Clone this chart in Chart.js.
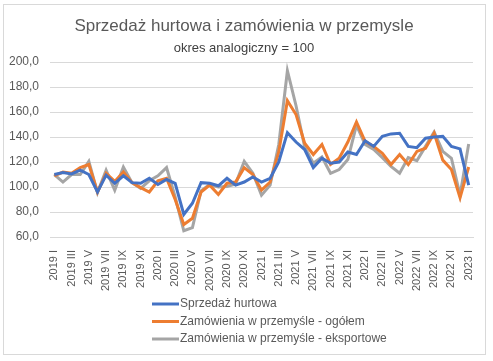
<!DOCTYPE html>
<html>
<head>
<meta charset="utf-8">
<script src="https://cdn.jsdelivr.net/npm/chart.js@4"></script>
<style>
  body { margin: 0; background: #fff; }
  #wrap { position: relative; width: 493px; height: 361px; }
  #frame { position: absolute; left: 3px; top: 4px; width: 481px; height: 349px; border: 1px solid #d9d9d9; }
  canvas { position: absolute; left: 0; top: 0; }
</style>
</head>
<body>
<div id="wrap">
  <div id="frame"></div>
  <canvas id="chart" width="493" height="361"></canvas>
</div>
<script>
const months = [
  "2019 I", "2019 II", "2019 III", "2019 IV", "2019 V", "2019 VI", "2019 VII", "2019 VIII", "2019 IX", "2019 X", "2019 XI", "2019 XII",
  "2020 I", "2020 II", "2020 III", "2020 IV", "2020 V", "2020 VI", "2020 VII", "2020 VIII", "2020 IX", "2020 X", "2020 XI", "2020 XII",
  "2021 I", "2021 II", "2021 III", "2021 IV", "2021 V", "2021 VI", "2021 VII", "2021 VIII", "2021 IX", "2021 X", "2021 XI", "2021 XII",
  "2022 I", "2022 II", "2022 III", "2022 IV", "2022 V", "2022 VI", "2022 VII", "2022 VIII", "2022 IX", "2022 X", "2022 XI", "2022 XII",
  "2023 I"
];

const sprzedaz = [
  110, 111.5, 110.5, 113.5, 110, 96, 109.5, 103, 109, 103.5, 103, 107,
  102, 106, 103, 78, 87, 103.5, 103, 101, 107, 101.5, 104, 108,
  104, 107, 120, 143.5, 136, 130, 115.5, 123, 119, 120, 128, 126,
  137, 132.5, 140.5, 142.5, 143, 132.5, 131.5, 139, 140, 140.5, 132.5, 130.5,
  101.5
];

const zamOgolem = [
  109, 112, 111, 115.5, 118, 96, 111, 104.5, 112, 103.5, 99.5, 96,
  105, 107, 90, 70, 75, 96, 101.5, 94, 103, 104, 115.5, 110,
  97.5, 104, 128, 169, 158, 135, 126, 134, 118, 123, 136, 152,
  136.5, 132.5, 127, 118, 126, 118, 128.5, 131, 143, 121.5, 114, 91.5,
  116
];

const zamEksport = [
  110, 104, 110, 110, 120.5, 95.5, 113.5, 97.5, 116, 103.5, 99, 105,
  109, 115.5, 92, 65, 67.5, 97, 102, 100, 100.5, 102.5, 120.5, 111,
  93.5, 101.5, 134, 193, 165, 132, 119, 124, 111, 114, 122, 149.5,
  134, 130, 123.5, 116.5, 111, 123.5, 121, 132.5, 144, 128.5, 123, 93.5,
  134.5
];

const seriesNames = [
  "Sprzedaż hurtowa",
  "Zamówienia w przemyśle - ogółem",
  "Zamówienia w przemyśle - eksportowe"
];
const seriesColors = ["#4472c4", "#ed7d31", "#a5a5a5"];

const font = "'Liberation Sans', sans-serif";
const textColor = "#595959";

// legend drawn as a vertical list under the axis, like the Excel one
const sideLegend = {
  id: "sideLegend",
  afterDraw(chart) {
    const ctx = chart.ctx;
    ctx.save();
    ctx.font = "12px " + font;
    ctx.textBaseline = "middle";
    ctx.fillStyle = textColor;
    chart.data.datasets.forEach((ds, i) => {
      const y = 304 + i * 17.5;
      ctx.strokeStyle = ds.borderColor;
      ctx.lineWidth = 3;
      ctx.beginPath();
      ctx.moveTo(152, y);
      ctx.lineTo(179, y);
      ctx.stroke();
      ctx.fillText(ds.label, 180, y);
    });
    ctx.restore();
  }
};

new Chart(document.getElementById("chart"), {
  type: "line",
  data: {
    labels: months,
    datasets: [sprzedaz, zamOgolem, zamEksport].map((values, i) => ({
      label: seriesNames[i],
      data: values,
      borderColor: seriesColors[i],
      backgroundColor: seriesColors[i],
      borderWidth: 3,
      pointRadius: 0,
      tension: 0
    }))
  },
  options: {
    responsive: false,
    animation: false,
    layout: { padding: { left: 0, right: 5, top: 0, bottom: 65 } },
    plugins: {
      legend: { display: false },
      tooltip: { enabled: false },
      title: {
        display: true,
        text: "Sprzedaż hurtowa i zamówienia w przemysle",
        color: textColor,
        font: { family: font, size: 17, weight: "normal" },
        padding: { top: 16, bottom: 4 }
      },
      subtitle: {
        display: true,
        text: "okres analogiczny = 100",
        color: "#404040",
        font: { family: font, size: 13 },
        padding: { bottom: 6 }
      }
    },
    scales: {
      x: {
        offset: true,
        grid: { display: false },
        border: { color: "#d9d9d9" },
        ticks: {
          autoSkip: false,
          minRotation: 90,
          maxRotation: 90,
          color: textColor,
          font: { family: font, size: 11 },
          padding: 5,
          callback(value, index) {
            return index % 2 === 0 ? months[index] : "";
          }
        }
      },
      y: {
        min: 60,
        max: 200,
        afterFit(scale) { scale.width = 50; },
        grid: { color: "#d9d9d9", drawTicks: false },
        border: { display: false },
        ticks: {
          stepSize: 20,
          color: textColor,
          font: { family: font, size: 12 },
          padding: 11,
          callback: v => v.toFixed(1).replace(".", ",")
        }
      },
      // empty right-hand spacer so the plot ends where the Excel one does
      spacer: {
        position: "right",
        min: 0,
        max: 1,
        afterFit(scale) { scale.width = 15; },
        grid: { display: false },
        border: { display: false },
        ticks: { display: false }
      }
    }
  },
  plugins: [sideLegend]
});
</script>
</body>
</html>
